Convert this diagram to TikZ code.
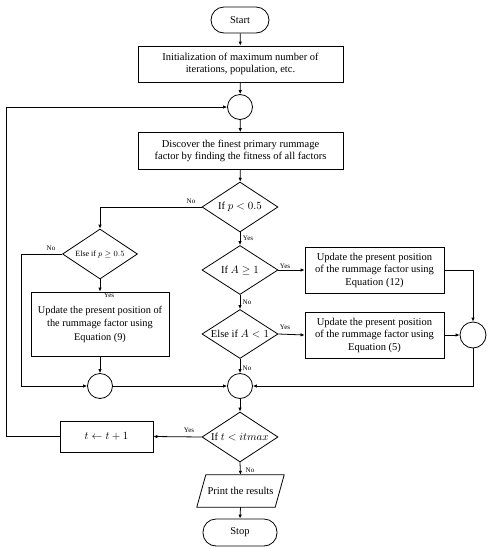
\documentclass[tikz,border=0pt]{standalone}
\usepackage{fontspec}
\setmainfont{Liberation Serif}
\usetikzlibrary{arrows.meta,shapes.geometric,calc}
\begin{document}
\begin{tikzpicture}[x=1pt,y=-1pt,
  every node/.style={font=\fontsize{10.5}{12.5}\selectfont},
  base/.style={draw,line width=0.8pt,inner sep=0pt,align=center},
  termbox/.style={base,rectangle,rounded corners=13pt},
  procbox/.style={base,rectangle},
  joinc/.style={base,circle,minimum size=25pt},
  decis/.style={base,diamond,minimum width=76pt,minimum height=50pt},
  lbl/.style={font=\fontsize{7}{8}\selectfont,inner sep=0pt},
  arr/.style={line width=0.8pt,-{Latex[length=4pt,width=3.5pt]}},
  ln/.style={line width=0.8pt}]
\useasboundingbox (0,0) rectangle (489,550);
\node[termbox,minimum width=58pt,minimum height=26pt] (start) at (240,20) {Start};
\node[procbox,minimum width=205pt,minimum height=36pt] (init) at (240.5,64) {Initialization of maximum number of\\iterations, population, etc.};
\node[joinc] (c1) at (240,107) {};
\node[procbox,minimum width=205pt,minimum height=37pt] (disc) at (240.5,151) {Discover the finest primary rummage\\factor by finding the fitness of all factors};
\node[decis,label={center:If $p<0.5$}] (d1) at (240,207) {};
\node[decis,minimum width=75pt,label={[font=\fontsize{8}{9}\selectfont]center:Else if $p\geq 0.5$}] (d2) at (100,254) {};
\node[procbox,minimum width=138pt,minimum height=64pt,font=\fontsize{10.3}{13.5}\selectfont] (b9) at (100,324) {Update the present position of\\the rummage factor using\\Equation (9)};
\node[joinc] (cL) at (100,386) {};
\node[decis,minimum height=49pt,label={center:If $A\geq 1$}] (d3) at (240,270) {};
\node[decis,minimum height=49pt,label={center:Else if $A<1$}] (d4) at (240,334) {};
\node[procbox,minimum width=139pt,minimum height=46pt] (b12) at (374.5,270) {Update the present position\\of the rummage factor using\\Equation (12)};
\node[procbox,minimum width=139pt,minimum height=46pt] (b5) at (374.5,335) {Update the present position\\of the rummage factor using\\Equation (5)};
\node[joinc,minimum size=26pt] (cR) at (473,335) {};
\node[joinc] (cC) at (240,386) {};
\node[decis,label={center:If $t<itmax$}] (d5) at (240,437) {};
\node[procbox,minimum width=93pt,minimum height=31pt] (bt) at (106.5,436.5) {$t\leftarrow t+1$};
\node[inner sep=0pt,minimum width=78pt,minimum height=32pt] (pr) at (240.5,491) {Print the results};
\draw[ln] ($(pr.north west)+(4.5,0)$) -- ($(pr.north east)+(4.5,0)$) -- ($(pr.south east)+(-4.5,0)$) -- ($(pr.south west)+(-4.5,0)$) -- cycle;
\node[termbox,minimum width=74pt,minimum height=27pt] (stop) at (240,532.5) {Stop};
\coordinate (lp) at (6,107);
\coordinate (nl) at (21,386);
% connectors
\draw[arr] (start) -- (init);
\draw[arr] (init) -- (c1);
\draw[arr] (c1) -- (disc);
\draw[arr] (disc) -- (d1);
\draw[arr] (d1.west) -| (d2.north);
\draw[arr] (d1.south) -- (d3.north);
\draw[arr] (d3.east) -- (b12.west);
\draw[arr] (d3.south) -- (d4.north);
\draw[arr] (d4.east) -- (b5.west);
\draw[arr] (d4.south) -- (cC.north);
\draw[arr] (b12.east) -| (cR.north);
\draw[arr] (b5.east) -- (cR.west);
\draw[arr] (cR.south) |- (cC.east);
\draw[arr] (d2.south) -- (b9.north);
\draw[arr] (d2.west) -| (nl) -- (cL.west);
\draw[arr] (b9.south) -- (cL.north);
\draw[arr] (cL.east) -- (cC.west);
\draw[arr] (cC.south) -- (d5.north);
\draw[arr] (d5.west) -- (bt.east);
\draw[arr] (bt.west) -| (lp) -- (c1.west);
\draw[arr] (d5.south) -- (pr.north);
\draw[arr] (pr.south) -- (stop.north);
% labels
\node[lbl] (l1) at (191,201) {No};
\node[lbl] (l2) at (248,238) {Yes};
\node[lbl] (l3) at (51,248) {No};
\node[lbl] (l4) at (109,295) {Yes};
\node[lbl] (l5) at (285,266) {Yes};
\node[lbl] (l6) at (247,302) {No};
\node[lbl] (l7) at (285,327) {Yes};
\node[lbl] (l8) at (247,368) {No};
\node[lbl] (l9) at (189,430) {Yes};
\node[lbl] (l10) at (250,470) {No};
\end{tikzpicture}
\end{document}
